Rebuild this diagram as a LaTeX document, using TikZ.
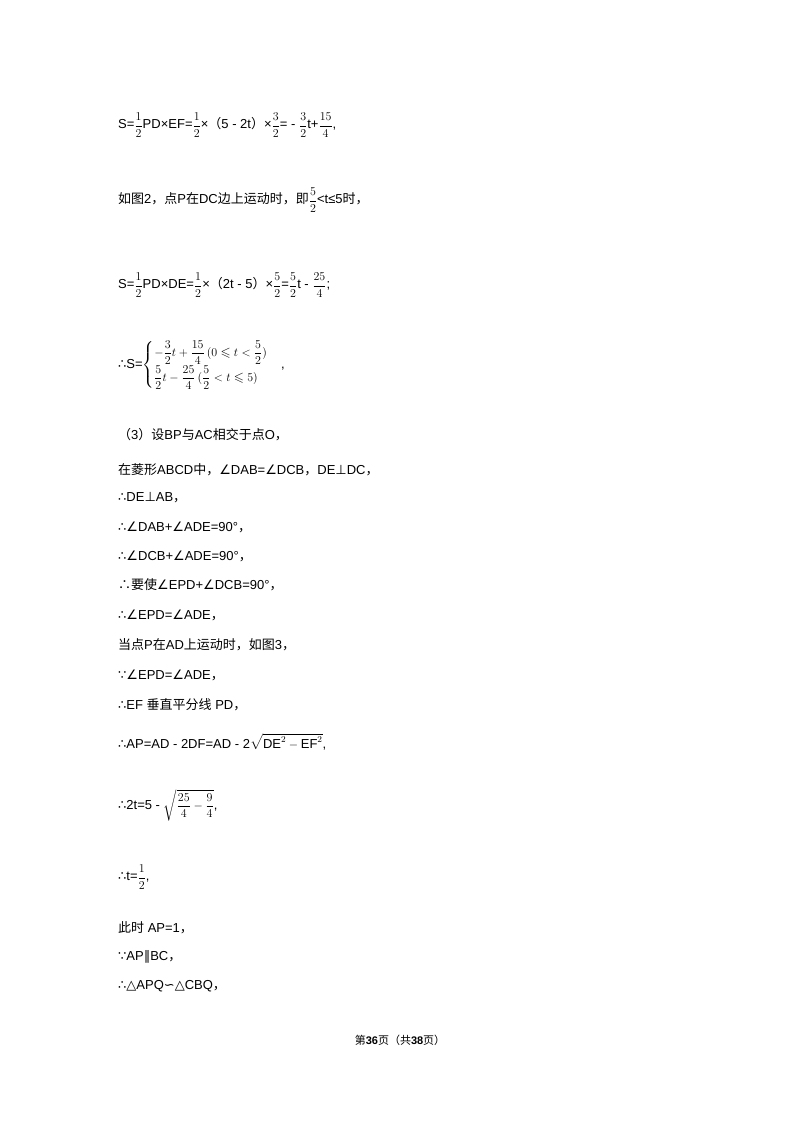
\documentclass[tikz,border=0pt]{standalone}
\usepackage{amsmath,amssymb}
\usepackage{fontspec}
\setmainfont{Liberation Sans}
\newfontfamily\cjk{Noto Sans CJK SC}
\newfontfamily\symf{DejaVu Sans}
\newcommand{\sy}[1]{{\symf #1}}
\begin{document}
\begin{tikzpicture}[x=1pt,y=-1pt,line/.style={anchor=west,inner sep=0pt,font=\fontsize{13}{15}\selectfont}]
\useasboundingbox (0,0) rectangle (800,1132);
\node[line] (l1) at (118,125) {S=$\dfrac{1}{2}$PD×EF=$\dfrac{1}{2}$×{\cjk（}5 - 2t{\cjk）}×$\dfrac{3}{2}$= - $\dfrac{3}{2}$t+$\dfrac{15}{4}$,};
\node[line] (l2) at (118,200) {{\cjk 如图}2{\cjk，点}P{\cjk 在}DC{\cjk 边上运动时，即}$\dfrac{5}{2}$<t≤5{\cjk 时，}};
\node[line] (l3) at (118,285) {S=$\dfrac{1}{2}$PD×DE=$\dfrac{1}{2}$×{\cjk（}2t - 5{\cjk）}×$\dfrac{5}{2}$=$\dfrac{5}{2}$t - $\dfrac{25}{4}$;};
\node[line] (l4) at (118,365) {\sy{∴}S=$\begin{cases}-\dfrac{3}{2}t+\dfrac{15}{4}\,(0\leqslant t<\dfrac{5}{2})\\[4pt] \dfrac{5}{2}t-\dfrac{25}{4}\,(\dfrac{5}{2}<t\leqslant 5)\end{cases}$,};
\node[line] (l5) at (118,435) {{\cjk（}3{\cjk）设}BP{\cjk 与}AC{\cjk 相交于点}O{\cjk ，}};
\node[line] (l6) at (118,470) {{\cjk 在菱形}ABCD{\cjk 中，}\sy{∠}DAB=\sy{∠}DCB{\cjk ，}DE\sy{⊥}DC{\cjk ，}};
\node[line] (l7) at (118,498) {\sy{∴}DE\sy{⊥}AB{\cjk ，}};
\node[line] (l8) at (118,527) {\sy{∴∠}DAB+\sy{∠}ADE=90°{\cjk ，}};
\node[line] (l9) at (118,556) {\sy{∴∠}DCB+\sy{∠}ADE=90°{\cjk ，}};
\node[line] (l10) at (118,585) {{\cjk ∴要使}\sy{∠}EPD+\sy{∠}DCB=90°{\cjk ，}};
\node[line] (l11) at (118,615) {\sy{∴∠}EPD=\sy{∠}ADE{\cjk ，}};
\node[line] (l12) at (118,645) {{\cjk 当点}P{\cjk 在}AD{\cjk 上运动时，如图}3{\cjk ，}};
\node[line] (l13) at (118,675) {\sy{∵∠}EPD=\sy{∠}ADE{\cjk ，}};
\node[line] (l14) at (118,705) {\sy{∴}EF {\cjk 垂直平分线} PD{\cjk ，}};
\node[line] (l15) at (118,742) {\sy{∴}AP=AD - 2DF=AD - 2$\sqrt{\mathrm{DE}^2-\mathrm{EF}^2}$,};
\node[line] (l16) at (118,805) {\sy{∴}2t=5 - $\sqrt{\dfrac{25}{4}-\dfrac{9}{4}}$,};
\node[line] (l17) at (118,877) {\sy{∴}t=$\dfrac{1}{2}$,};
\node[line] (l18) at (118,928) {{\cjk 此时} AP=1{\cjk ，}};
\node[line] (l19) at (118,957) {\sy{∵}AP\sy{∥}BC{\cjk ，}};
\node[line] (l20) at (118,986) {\sy{∴△}APQ\sy{∽△}CBQ{\cjk ，}};
\node[inner sep=0pt,font=\fontsize{11}{13}\selectfont] (ft) at (400,1040) {{\cjk 第}\textbf{36}{\cjk 页（共}\textbf{38}{\cjk 页）}};
\end{tikzpicture}
\end{document}
